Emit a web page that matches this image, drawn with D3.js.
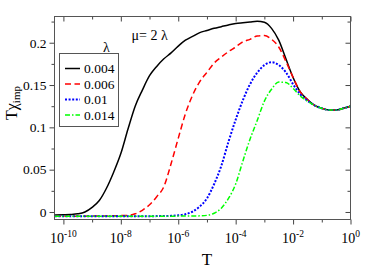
<!DOCTYPE html>
<html><head><meta charset="utf-8">
<script src="https://cdn.jsdelivr.net/npm/d3@7"></script>
<style>
body{margin:0;background:#fff}
svg{display:block}
text{font-family:"Liberation Serif","Times New Roman",serif;fill:#000}
</style>
</head><body><svg id="c" width="374" height="269"></svg>
<script>
// log10(T) sample positions
const logT = [-10.3, -10, -9.75, -9.5, -9.25, -9, -8.75, -8.5, -8.25, -8, -7.75, -7.5, -7.25, -7, -6.75, -6.5, -6.25, -6, -5.75, -5.5, -5.25, -5, -4.75, -4.5, -4.25, -4, -3.75, -3.5, -3.25, -3, -2.75, -2.5, -2.25, -2, -1.75, -1.5, -1.25, -1, -0.75, -0.5, -0.25, 0];
const lambdas = ["0.004", "0.006", "0.01", "0.014"];
const chi004 = [-0.0035, -0.0033, -0.003, -0.0022, 0.0, 0.0055, 0.0135, 0.028, 0.047, 0.069, 0.098, 0.125, 0.144, 0.161, 0.172, 0.181, 0.188, 0.196, 0.203, 0.2075, 0.212, 0.2145, 0.217, 0.219, 0.221, 0.2227, 0.2237, 0.2246, 0.2254, 0.2242, 0.217, 0.203, 0.181, 0.159, 0.142, 0.133, 0.126, 0.1225, 0.1205, 0.1205, 0.1225, 0.125];
const chi006 = [-0.005, -0.005, -0.005, -0.005, -0.005, -0.0048, -0.0048, -0.0047, -0.0045, -0.0043, -0.004, -0.0022, 0.002, 0.0085, 0.018, 0.030, 0.057, 0.087, 0.116, 0.138, 0.154, 0.165, 0.176, 0.183, 0.1895, 0.195, 0.201, 0.204, 0.208, 0.2085, 0.204, 0.195, 0.178, 0.159, 0.142, 0.133, 0.126, 0.1225, 0.1205, 0.1205, 0.1225, 0.125];
const chi010 = [-0.0052, -0.0052, -0.0052, -0.0051, -0.0051, -0.005, -0.005, -0.005, -0.005, -0.005, -0.005, -0.005, -0.005, -0.005, -0.0049, -0.0048, -0.0046, -0.004, -0.0027, 0.0005, 0.0065, 0.016, 0.033, 0.0545, 0.083, 0.109, 0.132, 0.151, 0.1645, 0.1735, 0.177, 0.1737, 0.165, 0.151, 0.139, 0.1315, 0.126, 0.1225, 0.1205, 0.1205, 0.1225, 0.125];
const chi014 = [-0.005, -0.005, -0.005, -0.005, -0.005, -0.005, -0.005, -0.005, -0.005, -0.005, -0.005, -0.005, -0.005, -0.005, -0.005, -0.005, -0.005, -0.0049, -0.0049, -0.0048, -0.0046, -0.004, -0.0015, 0.0045, 0.016, 0.033, 0.060, 0.086, 0.108, 0.131, 0.145, 0.1535, 0.153, 0.146, 0.137, 0.131, 0.126, 0.1225, 0.1205, 0.1205, 0.1225, 0.125];
const xMajorExp = [-10, -8, -6, -4, -2, 0];
const xMinorExp = [-9, -7, -5, -3, -1];
const yMajor = [0, 0.05, 0.1, 0.15, 0.2];
const yMinor = [0.025, 0.075, 0.125, 0.175, 0.225];
const colors = ["#000000", "#ff0000", "#0000ff", "#00ff00"];
const dashes = [null, "6,3.5", "2,1.6", "5,2,1.5,2"];
const widths = [1.5, 1.5, 2, 1.5];

const series = [chi004, chi006, chi010, chi014];
const svg = d3.select("#c");
const L = 54.5, R = 350.5, T = 16.5, B = 219.5;
const x = d3.scaleLog().domain([Math.pow(10, -10.31), 1]).range([L, R]);
const y = d3.scaleLinear().domain([-0.0089, 0.231]).range([B, T]);
const p10 = e => Math.pow(10, e);

svg.append("defs").append("clipPath").attr("id", "clip")
  .append("rect").attr("x", L).attr("y", T).attr("width", R - L).attr("height", B - T);

// ticks
const tickCol = "#444";
function styleAxis(g) { g.select(".domain").remove(); g.selectAll("line").attr("stroke", tickCol); }
svg.append("g").attr("transform", `translate(0,${B})`)
  .call(d3.axisBottom(x).tickValues(xMajorExp.map(p10)).tickSize(5).tickFormat("")).call(styleAxis);
svg.append("g").attr("transform", `translate(0,${B})`)
  .call(d3.axisBottom(x).tickValues(xMinorExp.map(p10)).tickSize(3).tickFormat("")).call(styleAxis);
svg.append("g").attr("transform", `translate(0,${T})`)
  .call(d3.axisTop(x).tickValues(xMajorExp.map(p10)).tickSize(-5).tickFormat("")).call(styleAxis);
svg.append("g").attr("transform", `translate(0,${T})`)
  .call(d3.axisTop(x).tickValues(xMinorExp.map(p10)).tickSize(-3).tickFormat("")).call(styleAxis);
const yl = svg.append("g").attr("transform", `translate(${L},0)`)
  .call(d3.axisLeft(y).tickValues(yMajor).tickSize(5).tickPadding(3).tickFormat(d => String(d))).call(styleAxis);
yl.selectAll("text").attr("font-size", 13.5).attr("font-family", '"Liberation Serif",serif');
svg.append("g").attr("transform", `translate(${L},0)`)
  .call(d3.axisLeft(y).tickValues(yMinor).tickSize(3).tickFormat("")).call(styleAxis);
svg.append("g").attr("transform", `translate(${R},0)`)
  .call(d3.axisRight(y).tickValues(yMajor).tickSize(-5).tickFormat("")).call(styleAxis);
svg.append("g").attr("transform", `translate(${R},0)`)
  .call(d3.axisRight(y).tickValues(yMinor).tickSize(-3).tickFormat("")).call(styleAxis);

// x labels with superscripts
const xl = svg.append("g").selectAll("text").data(xMajorExp).join("text")
  .attr("x", d => x(p10(d))).attr("y", 243).attr("text-anchor", "middle").attr("font-size", 14);
xl.append("tspan").text("10");
xl.append("tspan").attr("dy", -6).attr("font-size", 9.5).text(d => d === 0 ? "0" : "-" + (-d));

// frame
svg.append("rect").attr("x", L).attr("y", T).attr("width", R - L).attr("height", B - T)
  .attr("fill", "none").attr("stroke", "#555").attr("stroke-width", 1);

// curves
const line = d3.line().x((d, i) => x(p10(logT[i]))).y(d => y(d)).curve(d3.curveMonotoneX);
const gl = svg.append("g").attr("clip-path", "url(#clip)");
series.forEach((s, k) => {
  gl.append("path").attr("d", line(s)).attr("fill", "none")
    .attr("stroke", colors[k]).attr("stroke-width", widths[k])
    .attr("stroke-dasharray", dashes[k]);
});

// axis titles
svg.append("text").attr("x", 207).attr("y", 265).attr("text-anchor", "middle").attr("font-size", 17).text("T");
const yt = svg.append("text").attr("transform", "translate(17,103) rotate(-90)").attr("text-anchor", "middle").attr("font-size", 16);
yt.append("tspan").text("Tχ");
yt.append("tspan").attr("dy", 3).attr("font-size", 11).text("imp");

// annotation
svg.append("text").attr("x", 131.5).attr("y", 40).attr("font-size", 14).text("μ= 2 λ");

// legend
svg.append("rect").attr("x", 59.5).attr("y", 53.5).attr("width", 59).attr("height", 73)
  .attr("fill", "#fff").attr("stroke", "#555").attr("stroke-width", 1);
svg.append("text").attr("x", 106.5).attr("y", 51.5).attr("text-anchor", "middle").attr("font-size", 14).text("λ");
const rows = [68.5, 84, 99.5, 115];
lambdas.forEach((lab, k) => {
  svg.append("line").attr("x1", 65).attr("x2", 80).attr("y1", rows[k]).attr("y2", rows[k])
    .attr("stroke", colors[k]).attr("stroke-width", widths[k]).attr("stroke-dasharray", dashes[k]);
  svg.append("text").attr("x", 84).attr("y", rows[k] + 4.6).attr("font-size", 13.5).text(lab);
});
</script></body></html>
